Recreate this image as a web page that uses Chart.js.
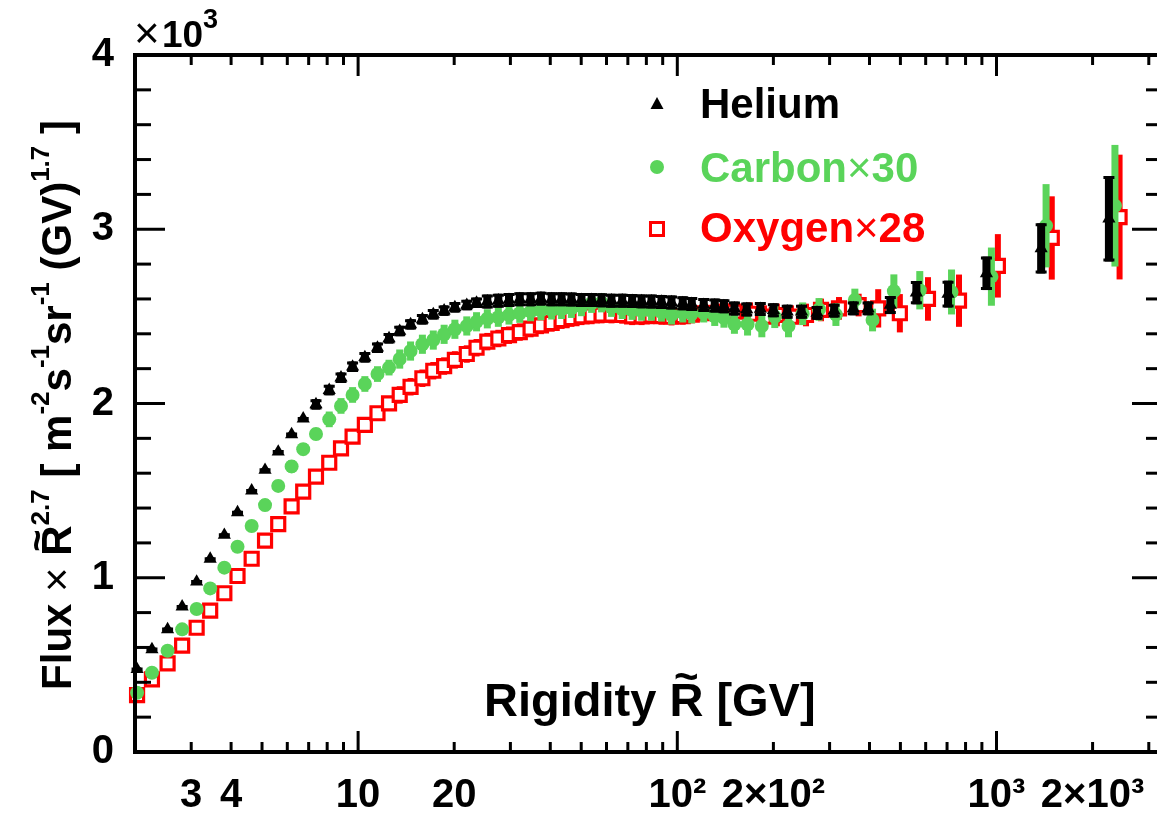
<!DOCTYPE html>
<html><head><meta charset="utf-8">
<script src="https://cdn.jsdelivr.net/npm/chart.js@4.4.0/dist/chart.umd.min.js"></script>
<style>
html,body{margin:0;padding:0;background:#fff;overflow:hidden;width:1157px;height:815px}
#wrap{position:absolute;left:0;top:0;width:1175px;height:815px}
canvas{display:block}
</style></head>
<body><div id="wrap"><canvas id="c" width="1175" height="815" style="width:1175px;height:815px"></canvas></div>
<script>
// ---------------- data ----------------
const heRigidity = [2.03, 2.26, 2.53, 2.81, 3.12, 3.44, 3.81, 4.19, 4.64, 5.11, 5.62, 6.19, 6.73, 7.38, 8.12, 8.84, 9.61, 10.5, 11.5, 12.5, 13.5, 14.6, 15.9, 17.2, 18.6, 20.1, 21.9, 23.5, 25.4, 27.5, 29.7, 32.1, 34.7, 37.4, 40.4, 43.4, 46.6, 50.1, 53.9, 57.9, 62.2, 67.2, 72.2, 77.3, 83.0, 89.2, 95.9, 104, 111, 121, 131, 140, 151, 165, 182, 200, 221, 245, 274, 310, 356, 396, 465, 561, 705, 930, 1380, 2250];
const heFlux = [475, 589, 704, 834, 977, 1108, 1245, 1375, 1500, 1618, 1723, 1823, 1913, 1995, 2077, 2148, 2211, 2265, 2320, 2374, 2416, 2454, 2483, 2512, 2533, 2552, 2565, 2578, 2585, 2590, 2594, 2598, 2598, 2602, 2598, 2598, 2597, 2594, 2594, 2592, 2590, 2590, 2588, 2586, 2585, 2583, 2580, 2575, 2571, 2565, 2562, 2558, 2545, 2540, 2542, 2535, 2527, 2527, 2520, 2533, 2546, 2546, 2565, 2636, 2628, 2747, 2890, 3060];
const heErr = [10, 10, 10, 10, 10, 10, 10, 10, 10, 10, 10, 10, 10, 30, 30, 30, 30, 30, 30, 30, 30, 30, 30, 30, 30, 30, 30, 30, 40, 40, 40, 40, 40, 40, 40, 40, 40, 40, 40, 40, 40, 40, 40, 40, 40, 40, 40, 40, 40, 40, 40, 40, 40, 40, 40, 40, 40, 40, 40, 40, 40, 40, 52, 67, 77, 96, 144, 245];

const cRigidity = [2.03, 2.26, 2.53, 2.81, 3.12, 3.44, 3.81, 4.19, 4.64, 5.11, 5.62, 6.19, 6.73, 7.38, 8.12, 8.84, 9.61, 10.5, 11.5, 12.5, 13.5, 14.6, 15.9, 17.2, 18.6, 20.1, 21.9, 23.5, 25.4, 27.5, 29.7, 32.1, 34.7, 37.4, 40.4, 43.4, 46.6, 50.1, 53.9, 57.9, 62.2, 67.2, 72.2, 77.3, 83.0, 89.2, 95.9, 104, 111, 121, 131, 140, 151, 166, 184, 202, 223, 247, 278, 314, 360, 409, 477, 575, 723, 964, 1430, 2350];
const cFlux = [340, 455, 581, 704, 821, 939, 1058, 1178, 1297, 1417, 1527, 1639, 1738, 1825, 1909, 1986, 2049, 2112, 2169, 2206, 2255, 2301, 2340, 2364, 2397, 2426, 2445, 2469, 2486, 2495, 2508, 2518, 2527, 2533, 2537, 2540, 2546, 2556, 2575, 2578, 2552, 2540, 2535, 2530, 2530, 2525, 2508, 2520, 2515, 2520, 2500, 2490, 2455, 2455, 2445, 2498, 2445, 2515, 2540, 2510, 2594, 2479, 2645, 2650, 2640, 2728, 3020, 3135];
const cErr = [15, 15, 15, 15, 15, 15, 15, 15, 35, 35, 35, 35, 35, 35, 45, 45, 45, 45, 45, 45, 55, 55, 55, 55, 55, 55, 55, 55, 55, 55, 55, 55, 55, 55, 55, 55, 55, 55, 55, 55, 55, 55, 55, 55, 55, 55, 55, 55, 55, 55, 55, 55, 55, 65, 65, 65, 65, 65, 65, 65, 65, 65, 96, 110, 129, 167, 239, 349];

const oRigidity = [2.03, 2.26, 2.53, 2.81, 3.12, 3.44, 3.81, 4.19, 4.64, 5.11, 5.62, 6.19, 6.73, 7.38, 8.12, 8.84, 9.61, 10.5, 11.5, 12.5, 13.5, 14.6, 15.9, 17.2, 18.6, 20.1, 21.9, 23.5, 25.4, 27.5, 29.7, 32.1, 34.7, 37.4, 40.4, 43.4, 46.6, 50.1, 53.9, 57.9, 62.2, 67.2, 72.2, 77.3, 83.0, 89.2, 95.9, 104, 111, 121, 131, 140, 151, 169, 187, 205, 227, 253, 282, 321, 370, 426, 498, 610, 763, 1010, 1490, 2430];
const oFlux = [327, 417, 509, 610, 713, 811, 911, 1010, 1109, 1213, 1308, 1410, 1494, 1580, 1660, 1743, 1810, 1877, 1944, 2001, 2049, 2096, 2145, 2188, 2215, 2250, 2284, 2320, 2355, 2373, 2392, 2410, 2430, 2448, 2462, 2478, 2490, 2500, 2505, 2510, 2510, 2508, 2500, 2500, 2505, 2502, 2498, 2502, 2510, 2518, 2520, 2527, 2527, 2515, 2498, 2508, 2498, 2508, 2537, 2546, 2565, 2546, 2518, 2600, 2590, 2790, 2950, 3070];
const oErr = [15, 15, 15, 15, 15, 15, 15, 15, 15, 15, 30, 30, 30, 30, 30, 30, 30, 30, 30, 30, 50, 50, 50, 50, 50, 50, 50, 50, 50, 50, 50, 50, 50, 50, 50, 50, 50, 50, 50, 50, 50, 50, 50, 50, 50, 50, 50, 50, 50, 50, 50, 50, 50, 65, 65, 65, 65, 65, 65, 65, 65, 110, 110, 125, 150, 182, 239, 358];

const seriesNames = ['Helium', 'Carbon', 'Oxygen'];
const seriesScale = ['', '30', '28'];

const xTickValues = [3, 4, 10, 20, 100, 200, 1000, 2000];
const xTickLabels = ['3', '4', '10', '20', '10\u00B2', '2\u00D710\u00B2', '10\u00B3', '2\u00D710\u00B3'];
const xMajorTicks = [10, 100, 1000];
const xMinorTicks = [3, 4, 5, 6, 7, 8, 9, 20, 30, 40, 50, 60, 70, 80, 90, 200, 300, 400, 500, 600, 700, 800, 900, 2000, 3000];
const yTickValues = [0, 1000, 2000, 3000, 4000];
const yTickLabels = ['0', '1', '2', '3', '4'];
const yMinorTicks = [200, 400, 600, 800, 1200, 1400, 1600, 1800, 2200, 2400, 2600, 2800, 3200, 3400, 3600, 3800];

// ---------------- styling ----------------
const FONT = "'Liberation Sans', Arial, Helvetica, sans-serif";
const GREEN = 'rgb(90,212,90)';
const RED = '#ff0000';

const toPts = (xs, ys) => xs.map((x, i) => ({x: x, y: ys[i]}));

const errorBarPlugin = {
  id: 'errbars',
  beforeDatasetDraw(chart, args) {
    const ds = chart.data.datasets[args.index];
    if (!ds.errors) return;
    const xs = chart.scales.x, ys = chart.scales.y, ctx = chart.ctx;
    ctx.save();
    ctx.strokeStyle = ds.errColor;
    ctx.lineCap = 'butt';
    ds.data.forEach((p, i) => {
      const e = ds.errors[i];
      const px = xs.getPixelForValue(p.x);
      const y1 = ys.getPixelForValue(p.y - e), y2 = ys.getPixelForValue(p.y + e);
      ctx.lineWidth = ds.errWidth;
      ctx.beginPath(); ctx.moveTo(px, y1); ctx.lineTo(px, y2); ctx.stroke();
      if (ds.errCap) {
        ctx.lineWidth = 3;
        ctx.beginPath();
        ctx.moveTo(px - ds.errCap / 2, y2 + 1.5); ctx.lineTo(px + ds.errCap / 2, y2 + 1.5);
        ctx.moveTo(px - ds.errCap / 2, y1 - 1.5); ctx.lineTo(px + ds.errCap / 2, y1 - 1.5);
        ctx.stroke();
      }
    });
    ctx.restore();
  }
};

function tildeOver(ctx, x, w, baseline, size) {
  ctx.save();
  ctx.font = 'bold ' + size + 'px ' + FONT;
  const tw = ctx.measureText('~').width;
  ctx.fillText('~', x + (w - tw) / 2, baseline);
  ctx.restore();
}

function drawRich(ctx, segs, x, y) {
  let cx = x;
  segs.forEach(s => {
    ctx.font = s.f;
    const w = ctx.measureText(s.t).width;
    ctx.fillText(s.t, cx, y + (s.dy || 0));
    if (s.tilde) tildeOver(ctx, cx, w, y - s.tilde, s.tsize);
    cx += w;
  });
  return cx - x;
}
function richWidth(ctx, segs) {
  let w = 0;
  segs.forEach(s => { ctx.font = s.f; w += ctx.measureText(s.t).width; });
  return w;
}

const decorPlugin = {
  id: 'decor',
  afterDraw(chart) {
    const ctx = chart.ctx, a = chart.chartArea, xs = chart.scales.x, ys = chart.scales.y;
    ctx.save();
    ctx.strokeStyle = '#000'; ctx.fillStyle = '#000'; ctx.lineCap = 'butt';
    const seg = (x1, y1, x2, y2) => { ctx.beginPath(); ctx.moveTo(x1, y1); ctx.lineTo(x2, y2); ctx.stroke(); };
    ctx.lineWidth = 3;
    xMajorTicks.forEach(v => { const p = xs.getPixelForValue(v); seg(p, a.bottom, p, a.bottom - 21); seg(p, a.top, p, a.top + 21); });
    xMinorTicks.forEach(v => { const p = xs.getPixelForValue(v); seg(p, a.bottom, p, a.bottom - 10); seg(p, a.top, p, a.top + 10); });
    yTickValues.forEach(v => { const p = ys.getPixelForValue(v); seg(a.left, p, a.left + 30, p); seg(a.right, p, a.right - 30, p); });
    yMinorTicks.forEach(v => { const p = ys.getPixelForValue(v); seg(a.left, p, a.left + 16, p); seg(a.right, p, a.right - 16, p); });
    ctx.lineWidth = 4;
    ctx.strokeRect(a.left, a.top, a.right - a.left, a.bottom - a.top);

    ctx.textBaseline = 'alphabetic'; ctx.textAlign = 'left';
    // x10^3 multiplier
    ctx.font = '44px ' + FONT; ctx.fillText('\u00D7', 134, 48);
    ctx.font = 'bold 37px ' + FONT; ctx.fillText('10', 162, 47);
    ctx.font = 'bold 27px ' + FONT; ctx.fillText('3', 203, 28);

    // x axis title (inside the frame)
    const B46 = 'bold 47px ' + FONT;
    drawRich(ctx, [
      {t: 'Rigidity ', f: B46},
      {t: 'R', f: B46, tilde: 25, tsize: 42},
      {t: ' [GV]', f: B46}
    ], 484, 716);

    // y axis title (rotated)
    const B = 'bold 42px ' + FONT, N = '42px ' + FONT, S = 'bold 26px ' + FONT, up = -22;
    const ysegs = [
      {t: 'Flux ', f: B}, {t: '\u00D7', f: N}, {t: ' ', f: B},
      {t: 'R', f: B, tilde: 21, tsize: 38}, {t: '2.7', f: S, dy: up},
      {t: ' [ m', f: B}, {t: '-2', f: S, dy: up}, {t: 's', f: B}, {t: '-1', f: S, dy: up},
      {t: 'sr', f: B}, {t: '-1', f: S, dy: up}, {t: ' (GV)', f: B}, {t: '1.7', f: S, dy: up}, {t: ' ]', f: B}
    ];
    const w = richWidth(ctx, ysegs);
    ctx.save();
    ctx.translate(71, 405);
    ctx.rotate(-Math.PI / 2);
    drawRich(ctx, ysegs, -w / 2, 0);
    ctx.restore();

    // legend
    const LB = 'bold 42px ' + FONT, LN = '42px ' + FONT;
    const mx = 657;
    ctx.fillStyle = '#000';
    ctx.beginPath(); ctx.moveTo(mx, 97); ctx.lineTo(mx + 6.5, 109); ctx.lineTo(mx - 6.5, 109); ctx.closePath(); ctx.fill();
    drawRich(ctx, [{t: seriesNames[0], f: LB}], 700, 118);
    ctx.fillStyle = GREEN;
    ctx.beginPath(); ctx.arc(mx, 167, 7, 0, Math.PI * 2); ctx.fill();
    drawRich(ctx, [{t: seriesNames[1], f: LB}, {t: '\u00D7', f: LN}, {t: seriesScale[1], f: LB}], 700, 182);
    ctx.strokeStyle = RED; ctx.lineWidth = 3;
    ctx.fillStyle = '#fff'; ctx.fillRect(mx - 6.5, 222.5, 13, 13); ctx.strokeRect(mx - 6.5, 222.5, 13, 13);
    ctx.fillStyle = RED;
    drawRich(ctx, [{t: seriesNames[2], f: LB}, {t: '\u00D7', f: LN}, {t: seriesScale[2], f: LB}], 700, 242);
    ctx.restore();
  }
};

const tickFont = {family: FONT, size: 40, weight: 'bold'};

new Chart(document.getElementById('c'), {
  type: 'scatter',
  data: {
    datasets: [
      {label: 'Helium', data: toPts(heRigidity, heFlux), pointStyle: 'triangle', pointRadius: 7.6,
       backgroundColor: '#000', borderColor: '#000', borderWidth: 0, clip: false,
       errors: heErr, errColor: '#000', errWidth: 8, errCap: 11},
      {label: 'Carbon\u00D730', data: toPts(cRigidity, cFlux), pointStyle: 'circle', pointRadius: 7,
       backgroundColor: GREEN, borderColor: GREEN, borderWidth: 0, clip: false,
       errors: cErr, errColor: GREEN, errWidth: 7},
      {label: 'Oxygen\u00D728', data: toPts(oRigidity, oFlux), pointStyle: 'rect', pointRadius: 9.2,
       backgroundColor: '#fff', borderColor: RED, borderWidth: 3.2, clip: false,
       errors: oErr, errColor: RED, errWidth: 6}
    ]
  },
  options: {
    responsive: false,
    animation: false,
    devicePixelRatio: 1,
    layout: {padding: {top: 55, right: 13, left: 0, bottom: 0}},
    plugins: {legend: {display: false}, tooltip: {enabled: false}, title: {display: false}},
    scales: {
      x: {
        type: 'logarithmic', min: 2, max: 3300, bounds: 'data', position: 'bottom',
        afterBuildTicks: s => { s.ticks = xTickValues.map(v => ({value: v})); },
        afterFit: s => { s.height = 63; },
        grid: {display: false, drawTicks: false}, border: {display: false},
        ticks: {autoSkip: false, maxRotation: 0, minRotation: 0, padding: 20, color: '#000', font: tickFont,
                callback: (v, i) => xTickLabels[i]}
      },
      y: {
        type: 'linear', min: 0, max: 4000,
        afterBuildTicks: s => { s.ticks = yTickValues.map(v => ({value: v})); },
        afterFit: s => { s.width = 135; },
        grid: {display: false, drawTicks: false}, border: {display: false},
        ticks: {padding: 21, color: '#000', font: tickFont, callback: (v, i) => yTickLabels[i]}
      }
    }
  },
  plugins: [errorBarPlugin, decorPlugin]
});
</script></body></html>
